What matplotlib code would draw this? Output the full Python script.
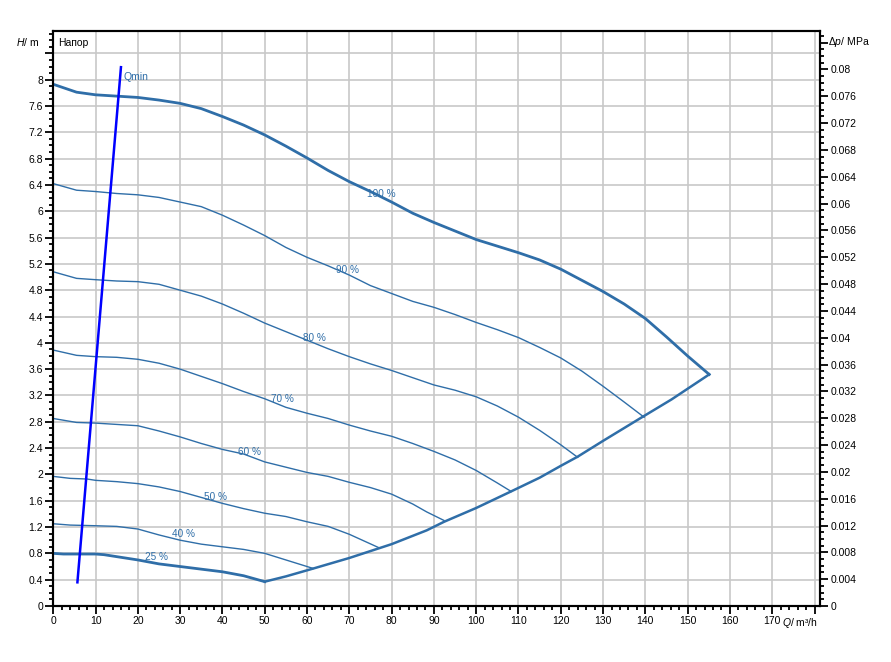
import matplotlib
matplotlib.use("Agg")
import matplotlib.pyplot as plt
from matplotlib.ticker import MultipleLocator, FuncFormatter

plt.rcParams['font.family'] = ['Liberation Sans', 'DejaVu Sans']
plt.rcParams['mathtext.fontset'] = 'custom'
plt.rcParams['mathtext.rm'] = 'Liberation Sans'
plt.rcParams['mathtext.it'] = 'Liberation Sans:italic'

# speed curves, Q in m3/h, H in m
q_100 = [0, 5.5, 10, 15, 20, 25, 30, 35, 40, 45, 50, 55, 60, 65, 70, 75, 80, 85, 90, 95,
         100, 105, 110, 115, 120, 125, 130, 135, 140, 145, 150, 155.1]
h_100 = [7.93, 7.81, 7.77, 7.75, 7.73, 7.69, 7.64, 7.56, 7.44, 7.31, 7.16, 6.99, 6.81, 6.62,
         6.45, 6.30, 6.14, 5.97, 5.83, 5.70, 5.57, 5.47, 5.37, 5.26, 5.12, 4.95, 4.78, 4.59,
         4.37, 4.09, 3.80, 3.52]

q_90 = [0, 5.5, 10, 15, 20, 25, 30, 35, 40, 45, 50, 55, 60, 65, 70, 75, 80, 85, 90, 95,
        100, 105, 110, 115, 120, 125, 130, 135, 139.7]
h_90 = [6.42, 6.32, 6.30, 6.27, 6.25, 6.21, 6.14, 6.07, 5.94, 5.79, 5.63, 5.45, 5.30, 5.17,
        5.03, 4.87, 4.75, 4.63, 4.54, 4.43, 4.31, 4.20, 4.08, 3.93, 3.77, 3.57, 3.34, 3.10, 2.87]

q_80 = [0, 5.5, 10, 15, 20, 25, 30, 35, 40, 45, 50, 55, 60, 65, 70, 75, 80, 85, 90, 95,
        100, 105, 110, 115, 120, 124]
h_80 = [5.08, 4.98, 4.96, 4.94, 4.93, 4.89, 4.80, 4.71, 4.59, 4.45, 4.30, 4.17, 4.04, 3.91,
        3.79, 3.68, 3.58, 3.47, 3.36, 3.28, 3.18, 3.04, 2.87, 2.67, 2.45, 2.26]

q_70 = [0, 5.5, 10, 15, 20, 25, 30, 35, 40, 45, 50, 55, 60, 65, 70, 75, 80, 85, 90, 95,
        100, 105, 108.3]
h_70 = [3.89, 3.81, 3.79, 3.78, 3.75, 3.69, 3.60, 3.49, 3.38, 3.26, 3.15, 3.02, 2.93, 2.85,
        2.75, 2.66, 2.58, 2.47, 2.35, 2.22, 2.06, 1.87, 1.74]

q_60 = [0, 5.5, 10, 15, 20, 25, 30, 35, 40, 45, 50, 55, 60, 65, 70, 75, 80, 85, 88.3, 92.4]
h_60 = [2.85, 2.79, 2.78, 2.76, 2.74, 2.66, 2.57, 2.47, 2.38, 2.31, 2.19, 2.11, 2.03, 1.97,
        1.88, 1.80, 1.70, 1.55, 1.43, 1.30]

q_50 = [0, 4, 8, 10, 15, 20, 25, 30, 35, 40, 45, 50, 55, 60, 65, 70, 77.2]
h_50 = [1.97, 1.94, 1.93, 1.91, 1.89, 1.86, 1.81, 1.74, 1.65, 1.56, 1.48, 1.41, 1.36, 1.28,
        1.21, 1.09, 0.88]

q_40 = [0, 4, 10, 15, 20, 25, 30, 35, 40, 45, 50, 55, 61.5]
h_40 = [1.25, 1.23, 1.22, 1.21, 1.17, 1.08, 1.00, 0.94, 0.90, 0.86, 0.80, 0.70, 0.57]

q_25 = [0, 2.4, 10, 12, 20, 25, 30, 35, 40, 45, 50]
h_25 = [0.80, 0.79, 0.79, 0.78, 0.70, 0.64, 0.60, 0.56, 0.52, 0.46, 0.37]

# lower boundary
q_sys = [50, 55, 61.5, 70, 80, 88.3, 92.4, 100, 108.2, 115, 120, 124, 130, 138.7, 146.2, 155.1]
h_sys = [0.37, 0.45, 0.57, 0.73, 0.94, 1.15, 1.28, 1.49, 1.74, 1.95, 2.13, 2.27, 2.51, 2.85,
         3.14, 3.52]

q_qmin = [5.7, 16.0]
h_qmin = [0.36, 8.19]

labels = ['100 %', '90 %', '80 %', '70 %', '60 %', '50 %', '40 %', '25 %']
label_q = [77.5, 69.5, 61.8, 54.1, 46.3, 38.4, 30.7, 24.4]
label_h = [6.27, 5.10, 4.07, 3.14, 2.34, 1.66, 1.10, 0.74]

rho_g = 0.00981  # MPa per m

c = '#2f6ea8'
fig = plt.figure(figsize=(8.91, 6.62), dpi=100)
ax = fig.add_axes([53.3/891, 1-606/662, (820-53.3)/891, (606-31)/662])

ax.plot(q_100, h_100, color=c, lw=2.0, zorder=3)
for q, h in [(q_90, h_90), (q_80, h_80), (q_70, h_70), (q_60, h_60), (q_50, h_50), (q_40, h_40)]:
    ax.plot(q, h, color=c, lw=1.0, zorder=3)
ax.plot(q_25, h_25, color=c, lw=2.0, zorder=3)
ax.plot(q_sys, h_sys, color=c, lw=1.8, zorder=3)
ax.plot(q_qmin, h_qmin, color='#0000ff', lw=1.8, zorder=4)

for t, x, y in zip(labels, label_q, label_h):
    ax.text(x, y, t, color=c, fontsize=7.2, ha='center', va='center', zorder=5)
ax.text(16.7, 8.04, 'Qmin', color=c, fontsize=7.5, ha='left', va='center', zorder=5)
ax.text(1.2, 8.56, 'Напор', color='black', fontsize=7.5, ha='left', va='center')

ylo, yhi = 0, 8.74
ax.set_xlim(0, 181.3)
ax.set_ylim(ylo, yhi)
ax.xaxis.set_major_locator(MultipleLocator(10))
ax.xaxis.set_minor_locator(MultipleLocator(2))
ax.yaxis.set_major_locator(MultipleLocator(0.4))
ax.yaxis.set_minor_locator(MultipleLocator(0.1))
ax.xaxis.set_major_formatter(FuncFormatter(lambda v, p: '%g' % round(v, 1) if v <= 170.5 else ''))
ax.yaxis.set_major_formatter(FuncFormatter(lambda v, p: '%g' % round(v, 2) if v <= 8.05 else ''))
ax.grid(True, which='major', color='#c8c8c8', lw=1.2, zorder=0)
ax.set_axisbelow(True)
ax.tick_params(which='major', direction='out', length=5.5, width=1.3, labelsize=7.5, pad=2, color='black')
ax.tick_params(which='minor', direction='out', length=3, width=1.3, color='black')

ax2 = ax.twinx()
ax2.set_ylim(ylo*rho_g, yhi*rho_g)
ax2.yaxis.set_major_locator(MultipleLocator(0.004))
ax2.yaxis.set_minor_locator(MultipleLocator(0.001))
ax2.yaxis.set_major_formatter(FuncFormatter(lambda v, p: '%g' % round(v, 4) if v <= 0.0805 else ''))
ax2.tick_params(which='major', direction='out', length=5.5, width=1.3, labelsize=7.5, pad=2, color='black')
ax2.tick_params(which='minor', direction='out', length=3, width=1.3, color='black')

for a in (ax, ax2):
    for s in a.spines.values():
        s.set_color('black')
        s.set_linewidth(1.5)

fig.text(39/891, 1-42/662, r'$H$/ m', fontsize=7.5, ha='right', va='center')
fig.text(828/891, 1-42/662, r'$\Delta \mathit{p}$/ MPa', fontsize=7.5, ha='left', va='center')
fig.text(818/891, 1-623/662, r'$Q$/ m³/h', fontsize=7.5, ha='right', va='center')

fig.savefig('out.png', dpi=100, facecolor='white')
